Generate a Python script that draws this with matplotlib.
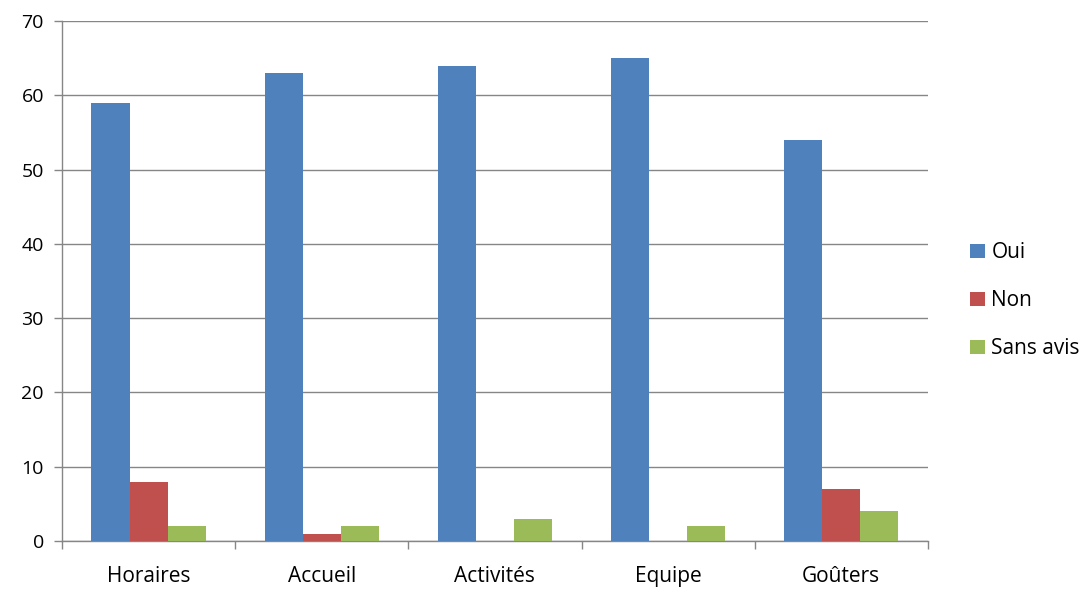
import numpy as np
import matplotlib
matplotlib.use("Agg")
import matplotlib.pyplot as plt
from matplotlib.patches import Patch

categories = ["Horaires", "Accueil", "Activités", "Equipe", "Goûters"]
oui = [59, 63, 64, 65, 54]
non = [8, 1, 0, 0, 7]
sans_avis = [2, 2, 3, 2, 4]
series_names = ["Oui", "Non", "Sans avis"]
colors = ["#4F81BD", "#C0504D", "#9BBB59"]

plt.rcParams['font.family'] = ['Open Sans', 'DejaVu Sans']

fig = plt.figure(figsize=(10.91, 5.90), dpi=100)
ax = fig.add_axes([0.0568, 0.0831, 0.7937, 0.8814])

x = np.arange(len(categories))
w = 0.22
for i, (vals, c) in enumerate(zip([oui, non, sans_avis], colors)):
    ax.bar(x + (i - 1) * w, vals, width=w, color=c, zorder=3)

ax.set_xlim(-0.5, len(categories) - 0.5)
ax.set_ylim(0, 70)
ax.set_yticks(range(0, 71, 10))
ax.grid(axis="y", color="#868686", linewidth=1.0, zorder=0)

# category labels centered, tick marks between groups
ax.set_xticks(x)
ax.set_xticklabels(categories, fontsize=15)
ax.tick_params(axis="x", length=0, pad=18)
ax.set_xticks(np.arange(-0.5, len(categories)), minor=True)
ax.tick_params(axis="x", which="minor", length=6, color="#868686", width=1)
ax.tick_params(axis="y", labelsize=14, length=6, color="#868686", width=1, pad=7)

for side in ["top", "right"]:
    ax.spines[side].set_visible(False)
for side in ["left", "bottom"]:
    ax.spines[side].set_color("#868686")
    ax.spines[side].set_linewidth(1.0)

handles = [Patch(facecolor=c, label=n) for c, n in zip(colors, series_names)]
fig.legend(handles=handles, loc="center left", bbox_to_anchor=(0.880, 0.49),
           frameon=False, fontsize=15, handlelength=0.7, handleheight=0.7,
           handletextpad=0.3, labelspacing=1.3, borderpad=0)

fig.savefig("out.png", dpi=100)
